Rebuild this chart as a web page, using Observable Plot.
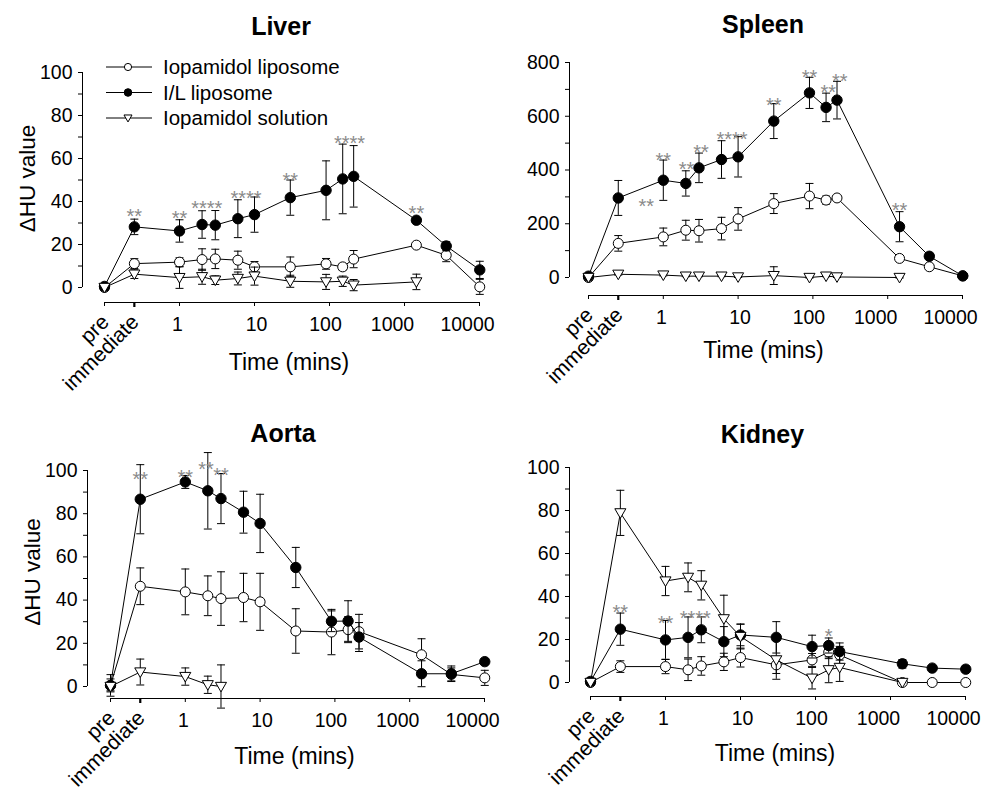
<!DOCTYPE html>
<html>
<head>
<meta charset="utf-8">
<script src="https://cdn.jsdelivr.net/npm/d3@7"></script>
<script src="https://cdn.jsdelivr.net/npm/@observablehq/plot@0.6"></script>
<style>
  body { margin: 0; background: #fff; font-family: "Liberation Sans", Arial, sans-serif; }
  #wrap { position: relative; width: 982px; height: 787px; overflow: hidden; }
  .panel { position: absolute; width: 491px; height: 393px; }
  .panel svg { overflow: visible; }
</style>
</head>
<body>
<div id="wrap"></div>
<script>
// ---------- shared axis data ----------
const timeLabels = ["pre", "immediate"];
const times = [0.1, 0.25, 1, 2, 3, 6, 10, 30, 90, 150, 210, 1440, 3600, 10080];
const xTickValues = [1, 10, 100, 1000, 10000];
const xTickShift = [-2, 2, -4, -12, -12];
const seriesNames = ["Iopamidol liposome", "I/L liposome", "Iopamidol solution"];
const xLabel = "Time (mins)";
const yLabel = "\u0394HU value";

// ---------- Liver ----------
const liverOpen      = [0, 11.1, 11.8, 13, 13.3, 12.7, 9.6, 9.6, 11, 9.6, 13.2, 19.7, 15, 0.3];
const liverOpenErr   = [0.5, 2.3, 2, 5, 4.5, 4.2, 2.5, 4.6, 2.5, 1.5, 4, 1, 3, 3.5];
const liverFilled    = [0.5, 28.2, 26.3, 29.3, 29, 32, 33.9, 41.8, 45.2, 50.5, 51.7, 31.3, 19.3, 8.2];
const liverFilledErr = [0.5, 3.6, 5.2, 6.4, 6.8, 8.8, 8.2, 8.2, 13.7, 16.2, 14.3, 1, 2, 4];
const liverSol       = [0, 6.2, 4.6, 5, 3.4, 4.2, 5.3, 2.9, 2.6, 2.9, 1.1, 2.6, null, null];
const liverSolErr    = [0.5, 2, 5, 3.5, 2, 3, 4.2, 2.8, 3.5, 2.4, 2.6, 3.6, null, null];
const liverStars     = [[0.25, 35.1, "**"], [1, 34.4, "**"], [2.31, 39, "****"], [7.7, 43.7, "****"], [30, 51.9, "**"], [185, 69.2, "****"], [1440, 36.7, "**"]];

// ---------- Spleen ----------
const spleenOpen      = [0, 127, 151, 176, 174, 182, 218, 275, 303, 288, 296, 71, 40, 6];
const spleenOpenErr   = [3, 29, 33, 37, 42, 42, 42, 37, 47, 15, 5, 5, 3, 2];
const spleenFilled    = [5, 296, 362, 350, 408, 439, 449, 582, 687, 633, 660, 189, 79, 6];
const spleenFilledErr = [3, 65, 75, 47, 55, 70, 75, 65, 58, 53, 70, 56, 5, 3];
const spleenSol       = [0, 12, 9, 5, 5, 5, 2, 7, 0, 5, 2, 0, null, null];
const spleenSolErr    = [0, 3, 3, 2, 2, 2, 2, 33, 2, 2, 2, 2, null, null];
const spleenStars     = [[0.59, 281, "**"], [1, 455, "**"], [2.05, 420, "**"], [3.2, 482, "**"], [8.3, 530, "****"], [30, 660, "**"], [90, 762, "**"], [160, 706, "**"], [228, 747, "**"], [1440, 269, "**"]];

// ---------- Aorta ----------
const aortaOpen      = [0.5, 46.4, 43.8, 42, 40.7, 41.2, 39.2, 25.7, 25.2, 26.3, 25.4, 14.7, 5.6, 4];
const aortaOpenErr   = [3, 8.5, 10.6, 9.2, 12.4, 11.2, 13.2, 10.3, 10.5, 6, 8, 7.4, 3, 3.5];
const aortaFilled    = [0.5, 86.7, 94.7, 90.6, 87, 80.7, 75.5, 55.1, 30.2, 30.3, 22.9, 5.9, 5.9, 11.5];
const aortaFilledErr = [5, 16, 3, 17.7, 11.6, 9.7, 13.5, 9.3, 4.8, 9.4, 6.7, 6, 3.6, 1.2];
const aortaSol       = [0, 6.7, 4.6, 0.8, 0, null, null, null, null, null, null, null, null, null];
const aortaSolErr    = [2, 6, 4, 4, 10, null, null, null, null, null, null, null, null, null];
const aortaStars     = [[0.25, 98.3, "**"], [1, 99, "**"], [1.89, 102.6, "**"], [3, 100, "**"]];

// ---------- Kidney ----------
const kidneyOpen      = [0, 7.4, 7.4, 5.9, 7.7, 9.6, 11.6, 8.2, 10.5, 14.1, 12.8, 0, 0, 0];
const kidneyOpenErr   = [0.5, 2.7, 3.3, 5, 4.3, 4, 4.4, 4, 3, 3, 4, 0, 0, 0];
const kidneyFilled    = [0.5, 24.8, 19.8, 21, 24.5, 19, 22.1, 21, 16.7, 17.2, 14.4, 8.7, 6.7, 6.2];
const kidneyFilledErr = [1.5, 7.5, 9, 9.5, 6, 7, 5, 7.3, 5.3, 3.5, 4, 2, 1, 1.5];
const kidneySol       = [0, 78.9, 47.2, 48.9, 45.2, 29.6, 21.4, 10.5, 2, 5.9, 7, 0, null, null];
const kidneySolErr    = [0.5, 10.5, 6.8, 6.7, 6.8, 11, 5.8, 9, 5, 6, 6.5, 0, null, null];
const kidneyStars     = [[0.25, 35, "**"], [1, 29.9, "**"], [2.49, 31.9, "****"], [150, 23.7, "*"]];

// ---------- symbols ----------
const capSymbol = { draw(ctx) { ctx.moveTo(-4, 0); ctx.lineTo(4, 0); } };
const downTriangle = {
  draw(ctx, size) {
    const h = Math.sqrt(size / (3 * Math.sqrt(3)));
    const w = Math.sqrt(3) * h;
    ctx.moveTo(-w, -h * 1.3);
    ctx.lineTo(w, -h * 1.3);
    ctx.lineTo(0, h * 1.7);
    ctx.closePath();
  }
};

const FONT = "'Liberation Sans', Arial, sans-serif";

function buildPanel(cfg) {
  const seriesVals = [cfg.open, cfg.filled, cfg.sol];
  const seriesErrs = [cfg.openErr, cfg.filledErr, cfg.solErr];
  const rows = [];
  seriesVals.forEach((vals, s) => vals.forEach((v, i) => {
    if (v != null) rows.push({ s, t: times[i], v, e: seriesErrs[s][i] || 0 });
  }));
  const stars = cfg.stars.map(([t, y, txt]) => ({ t, y, txt }));
  const m = cfg.m;
  const yMajor = d3.range(0, cfg.yMax + 1e-9, cfg.yStep);
  const yMinor = d3.range(cfg.yStep / 2, cfg.yMax, cfg.yStep);
  const labels = timeLabels.map((txt, i) => ({ t: times[i], txt }));

  const seriesMarks = [];
  [0, 1, 2].forEach(s => {
    const d = rows.filter(r => r.s === s);
    const eb = d.filter(r => r.e > 0);
    seriesMarks.push(
      Plot.line(d, { x: "t", y: "v", stroke: "black", strokeWidth: 1 }),
      Plot.ruleX(eb, { x: "t", y1: r => r.v - r.e, y2: r => r.v + r.e, stroke: "black", strokeWidth: 1 }),
      Plot.dot(eb, { x: "t", y: r => r.v + r.e, symbol: capSymbol, fill: "none", stroke: "black", strokeWidth: 1, r: 3 }),
      Plot.dot(eb, { x: "t", y: r => r.v - r.e, symbol: capSymbol, fill: "none", stroke: "black", strokeWidth: 1, r: 3 })
    );
    if (s === 0) seriesMarks.push(Plot.dot(d, { x: "t", y: "v", r: 5, fill: "white", stroke: "black", strokeWidth: 1 }));
    if (s === 1) seriesMarks.push(Plot.dot(d, { x: "t", y: "v", r: 5.2, fill: "black", stroke: "black", strokeWidth: 1 }));
    if (s === 2) seriesMarks.push(Plot.dot(d, { x: "t", y: "v", r: 4.1, symbol: downTriangle, fill: "white", stroke: "black", strokeWidth: 1 }));
  });

  const tickLabelMarks = xTickValues.map((v, i) =>
    Plot.text([String(v)], { x: v, frameAnchor: "bottom", lineAnchor: "top", dy: 15, dx: xTickShift[i], fontSize: 19.5 })
  );

  const marks = [
    // axis lines
    Plot.ruleX([times[0]], { y1: 0, y2: cfg.yMax, dx: -m.il, stroke: "black" }),
    Plot.ruleY([0], { x1: times[0], x2: 10000, dy: m.ib, stroke: "black" }),
    Plot.axisY(yMajor, { tickSize: 4, tickPadding: 6, fontSize: 19.5, label: null, tickFormat: d => String(d) }),
    Plot.axisY(yMinor, { tickSize: 4, label: null, tickFormat: () => "" }),
    Plot.axisX([times[0], ...xTickValues], { tickSize: 4, label: null, tickFormat: () => "" }),
    Plot.axisX([times[1]], { tickSize: 5, strokeWidth: 2.2, label: null, tickFormat: () => "" }),
    ...tickLabelMarks,
    Plot.text(labels, { x: "t", text: "txt", frameAnchor: "bottom", lineAnchor: "middle", rotate: -45, textAnchor: "end", dy: 16, dx: 1, fontSize: 21 }),
    Plot.text([xLabel], { x: Math.sqrt(0.1 * 10000), frameAnchor: "bottom", lineAnchor: "middle", dy: cfg.xLabDy, dx: cfg.xLabDx, fontSize: 23 }),
    Plot.text([cfg.title], { frameAnchor: "top", lineAnchor: "middle", dy: cfg.titleDy, dx: cfg.titleDx, fontSize: 25, fontWeight: "bold" }),
    ...seriesMarks,
    Plot.text(stars, { x: "t", y: "y", text: "txt", fill: "#8a8a8a", fontSize: 20, dy: 5 })
  ];
  if (cfg.yLabelY != null) {
    marks.push(Plot.text([yLabel], { x: times[0], y: cfg.yLabelY, dx: -(m.il + 55), rotate: -90, fontSize: 22.5 }));
  }

  return Plot.plot({
    width: 491, height: 393,
    marginLeft: m.l, marginRight: m.r, marginTop: m.t, marginBottom: m.b,
    x: { type: "log", domain: [0.1, 10000], insetLeft: m.il },
    y: { domain: [0, cfg.yMax], insetBottom: m.ib },
    style: { fontFamily: FONT, fontSize: "19px", color: "black", background: "transparent", overflow: "visible" },
    marks
  });
}

const panels = [
  { left: 0, top: 0, title: "Liver", open: liverOpen, openErr: liverOpenErr, filled: liverFilled, filledErr: liverFilledErr, sol: liverSol, solErr: liverSolErr, stars: liverStars,
    yMax: 100, yStep: 20, m: { l: 82, il: 22, r: 12, t: 72, b: 91, ib: 15 }, titleDy: -46, titleDx: 0, xLabDy: 60, xLabDx: -3, yLabelY: 50.7 },
  { left: 491, top: 0, title: "Spleen", open: spleenOpen, openErr: spleenOpenErr, filled: spleenFilled, filledErr: spleenFilledErr, sol: spleenSol, solErr: spleenSolErr, stars: spleenStars,
    yMax: 800, yStep: 200, m: { l: 78, il: 19, r: 20, t: 62, b: 98, ib: 18 }, titleDy: -38, titleDx: -3, xLabDy: 55, xLabDx: -12, yLabelY: null },
  { left: 0, top: 393, title: "Aorta", open: aortaOpen, openErr: aortaOpenErr, filled: aortaFilled, filledErr: aortaFilledErr, sol: aortaSol, solErr: aortaSolErr, stars: aortaStars,
    yMax: 100, yStep: 20, m: { l: 87, il: 23, r: 7, t: 77, b: 88, ib: 12 }, titleDy: -37, titleDx: -3, xLabDy: 58, xLabDx: -3, yLabelY: 53 },
  { left: 491, top: 393, title: "Kidney", open: kidneyOpen, openErr: kidneyOpenErr, filled: kidneyFilled, filledErr: kidneyFilledErr, sol: kidneySol, solErr: kidneySolErr, stars: kidneyStars,
    yMax: 100, yStep: 20, m: { l: 78, il: 21, r: 17, t: 74, b: 90, ib: 14 }, titleDy: -33, titleDx: -5, xLabDy: 57, xLabDx: -3, yLabelY: null }
];

const wrap = document.getElementById("wrap");
panels.forEach(p => {
  const div = document.createElement("div");
  div.className = "panel";
  div.style.left = p.left + "px";
  div.style.top = p.top + "px";
  div.appendChild(buildPanel(p));
  wrap.appendChild(div);
});

// ---------- legend (inside Liver panel) ----------
const legend = d3.select(wrap).append("svg")
  .attr("width", 400).attr("height", 140)
  .style("position", "absolute").style("left", "0px").style("top", "0px");
const rowY = [67, 92.5, 118];
seriesNames.forEach((name, i) => {
  const g = legend.append("g").attr("transform", `translate(0,${rowY[i]})`);
  g.append("line").attr("x1", 106).attr("x2", 152).attr("stroke", "black");
  if (i === 0) g.append("circle").attr("cx", 128).attr("r", 3.6).attr("fill", "white").attr("stroke", "black");
  if (i === 1) g.append("circle").attr("cx", 128).attr("r", 3.8).attr("fill", "black").attr("stroke", "black");
  if (i === 2) g.append("path").attr("d", d3.symbol(downTriangle, 28)()).attr("transform", "translate(128,0)").attr("fill", "white").attr("stroke", "black");
  g.append("text").attr("x", 163).attr("dy", "0.35em").attr("font-size", 20.5).attr("font-family", FONT).text(name);
});
</script>
</body>
</html>
